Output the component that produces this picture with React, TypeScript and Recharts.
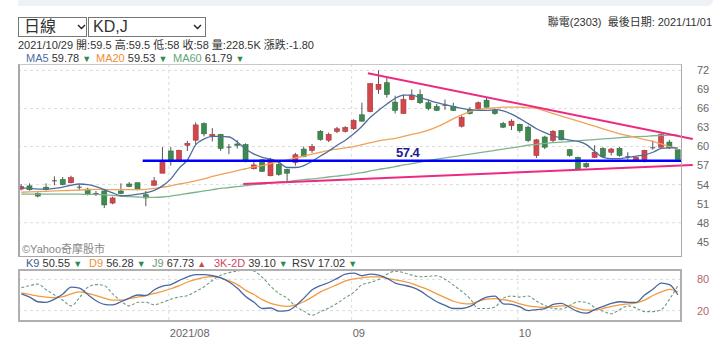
import React from "react";
import {
  Bar,
  CartesianGrid,
  ComposedChart,
  Line,
  LineChart,
  ReferenceLine,
  XAxis,
  YAxis,
} from "recharts";

const FONT = '"Liberation Sans", Arial, "Noto Sans CJK TC", sans-serif';

// daily candles, 2021/07 .. 2021/10/29
const openPrices = [
  53.3, 53.8, 52.6, 53.6, 54.6, 54.8, 54.3, 53.6, 53.3, 52.6, 53.0, 51.1, 53.0, 54.1, 54.3, 52.4, 53.9, 55.8,
  59.3, 57.8, 60.2, 61.0, 63.6, 61.6, 61.9, 59.9, 60.4, 60.3, 56.5, 57.9, 55.4, 57.2, 56.4, 57.5, 59.6, 59.4, 62.4, 61.0, 62.4, 62.4,
  62.8, 65.0, 65.5, 69.0, 70.05, 67.0, 65.2, 67.4, 68.2, 66.9, 66.3, 66.5, 66.3, 63.2, 65.8, 66.0, 67.3, 65.7, 63.6, 63.3,
  63.5, 63.05, 58.6, 61.5, 60.95, 62.5, 59.5, 58.3, 57.3, 58.3, 59.7, 59.1, 59.7, 58.4, 57.9, 57.95, 59.8, 59.9, 60.7, 59.5,
];
const highPrices = [
  54.1, 54.2, 52.8, 54.2, 55.3, 55.2, 55.4, 54.0, 53.5, 53.0, 53.3, 52.1, 54.2, 54.4, 54.3, 53.0, 55.2, 59.9,
  59.9, 59.5, 60.9, 63.8, 63.8, 62.9, 62.0, 60.4, 61.0, 60.5, 57.9, 58.0, 58.2, 57.5, 56.5, 59.0, 60.0, 60.4, 62.6, 62.2, 63.1, 63.2,
  64.3, 66.9, 70.0, 72.0, 70.8, 68.0, 68.2, 69.0, 69.0, 67.4, 66.7, 67.4, 66.9, 64.9, 66.2, 67.1, 67.7, 66.0, 63.9, 64.3,
  63.6, 63.3, 61.2, 61.7, 62.6, 62.6, 59.6, 58.4, 57.5, 60.2, 59.9, 59.8, 59.9, 59.1, 58.4, 59.5, 60.95, 62.1, 61.05, 59.5,
];
const lowPrices = [
  53.1, 53.05, 52.0, 53.05, 53.9, 53.9, 54.2, 53.1, 52.3, 52.2, 50.3, 50.9, 52.5, 53.6, 53.1, 50.6, 53.8, 55.8,
  57.0, 57.6, 59.3, 60.4, 61.6, 60.8, 59.3, 58.8, 59.7, 57.5, 56.4, 56.0, 55.3, 55.4, 54.5, 57.0, 58.3, 59.0, 60.9, 60.7, 62.1, 62.2,
  62.6, 63.9, 65.4, 68.3, 67.7, 65.2, 65.2, 67.3, 66.7, 65.7, 65.6, 65.8, 65.6, 63.0, 65.05, 65.8, 66.1, 65.0, 62.9, 62.6,
  62.2, 60.7, 58.2, 59.6, 60.7, 61.0, 58.4, 56.3, 56.6, 58.2, 58.3, 58.6, 58.4, 57.9, 57.7, 57.5, 59.5, 59.8, 59.6, 58.0,
];
const closePrices = [
  53.7, 53.2, 52.2, 53.2, 54.5, 54.0, 55.1, 53.5, 52.5, 52.5, 50.8, 51.9, 52.6, 53.7, 53.2, 51.9, 54.6, 57.6,
  57.7, 59.4, 60.5, 63.4, 62.0, 61.9, 59.7, 59.8, 60.2, 57.9, 57.1, 56.1, 58.0, 55.6, 55.8, 58.7, 58.4, 60.0, 61.1, 61.9, 62.8, 63.0,
  64.1, 64.0, 69.9, 69.8, 68.2, 65.7, 67.4, 68.1, 66.9, 66.0, 65.7, 66.4, 65.7, 64.6, 65.2, 66.9, 66.2, 65.2, 63.05, 64.0,
  62.5, 60.95, 61.05, 59.9, 62.4, 61.05, 58.6, 56.5, 56.8, 59.1, 58.4, 59.6, 58.6, 58.3, 58.3, 59.4, 59.7, 61.9, 59.8, 58.0,
];

const ma5 = [
  53.5, 53.4, 53.3, 53.3, 53.4, 53.6, 53.9, 54.1, 54.0, 53.7, 53.2, 52.7, 52.25, 52.3, 52.5, 52.7, 53.1, 53.8,
  54.9, 56.6, 57.9, 60.3, 61.2, 61.6, 61.6, 61.5, 60.7, 59.6, 58.8, 58.3, 58.0, 57.5, 56.7, 56.7, 57.0, 57.7, 58.5, 59.3, 60.2, 61.0,
  62.0, 63.2, 64.6, 65.7, 66.7, 67.6, 68.1, 68.1, 67.7, 67.3, 66.9, 66.6, 66.3, 66.0, 65.8, 65.7, 65.7, 65.8, 65.6, 65.1,
  64.4, 63.6, 62.8, 62.2, 61.7, 61.3, 61.0, 60.8, 60.3, 59.2, 58.3, 58.1, 58.1, 58.3, 58.5, 58.7, 59.1, 59.7, 59.8, 59.78,
];
const ma20 = [
  52.8, 52.85, 52.9, 52.95, 53.0, 53.05, 53.1, 53.15, 53.2, 53.25, 53.25, 53.2, 53.2, 53.2, 53.2, 53.25, 53.4, 53.6,
  53.8, 54.1, 54.3, 54.6, 54.9, 55.3, 55.6, 55.9, 56.2, 56.5, 56.8, 57.0, 57.3, 57.6, 57.9, 58.2, 58.5, 58.8, 59.1, 59.4, 59.6, 59.8,
  60.0, 60.3, 60.6, 60.9, 61.1, 61.3, 61.6, 61.9, 62.2, 62.6, 63.1, 63.7, 64.4, 65.0, 65.5, 65.8, 66.0, 66.1, 66.2, 66.2,
  66.2, 66.1, 66.0, 65.6, 65.2, 64.8, 64.4, 64.0, 63.6, 63.2, 62.8, 62.4, 62.0, 61.7, 61.4, 61.1, 60.8, 60.4, 60.0, 59.6,
];
const ma60 = [
  52.5, 52.5, 52.5, 52.5, 52.5, 52.5, 52.5, 52.5, 52.45, 52.45, 52.4, 52.3, 52.2, 52.1, 52.05, 52.0, 52.0, 52.05,
  52.2, 52.4, 52.6, 52.8, 53.0, 53.2, 53.4, 53.55, 53.7, 53.85, 54.0, 54.1, 54.25, 54.4, 54.5, 54.65, 54.8, 54.9, 55.05, 55.2, 55.35, 55.5,
  55.7, 55.9, 56.15, 56.4, 56.6, 56.85, 57.1, 57.3, 57.55, 57.8, 58.0, 58.2, 58.4, 58.6, 58.8, 59.0, 59.2, 59.4, 59.6, 59.8,
  60.0, 60.2, 60.35, 60.5, 60.6, 60.7, 60.8, 60.9, 61.0, 61.1, 61.2, 61.3, 61.4, 61.5, 61.55, 61.6, 61.7, 61.75, 61.8, 61.8,
];

// KD panel
const k9 = [
  52, 46, 37, 36, 42, 52, 65, 63, 51, 39, 32, 31, 37, 44, 50, 49, 60, 67,
  70, 78, 85, 89, 89, 87, 83, 75, 63, 47, 36, 24, 25, 19, 20, 29, 44, 60, 68, 74, 82, 90,
  92, 87, 90, 88, 82, 73, 69, 65, 58, 47, 37, 30, 24, 24, 28, 38, 46, 48, 33, 32,
  27, 20, 22, 24, 32, 34, 26, 18, 15, 22, 28, 34, 37, 36, 36, 50, 61, 73, 70, 50.55,
];
const d9 = [
  54, 51, 48, 46, 45, 47, 52, 56, 53, 49, 44, 40, 40, 43, 46, 49, 53, 57,
  62, 68, 75, 80, 84, 85.5, 83, 77, 70, 59, 51, 41, 34, 30, 28, 31, 37, 46, 56, 63, 70, 77,
  81, 83, 85, 85, 82, 79, 76, 72, 66, 60, 52, 45, 38, 34, 33, 38, 42, 43, 41, 38,
  33, 29, 27, 26, 27.5, 29, 29, 24, 21, 21, 24, 28, 31, 33, 35, 40, 49, 56, 61, 56.28,
];
const j9 = [
  64, 68, 71, 60, 50, 40, 29, 45, 65, 70, 68, 52, 38, 29, 36, 36, 31, 36,
  42, 46, 49, 57, 66, 78, 88, 93, 96, 99, 96, 84, 67, 53, 44, 28, 19, 11, 18, 25, 34, 45,
  55, 70, 74, 80, 90, 96, 93, 88, 85, 86, 87, 80, 69, 57, 43, 24, 24, 27, 44, 48,
  46, 48, 38, 30, 24, 23, 30, 37, 36, 26, 19, 14, 22, 29, 25, 18, 18, 22, 42, 67.73,
];

const priceTicks = [45, 48, 51, 54, 57, 60, 63, 66, 69, 72];
const kdTicks = [20, 50, 80];
const monthStartIdx = [19, 41, 61];
const monthLabels = ["2021/08", "09", "10"];

const maLegend = [
  { name: "MA5", value: "59.78", color: "#4b6ea6", up: false },
  { name: "MA20", value: "59.53", color: "#ef8f35", up: false },
  { name: "MA60", value: "61.79", color: "#62a57a", up: false },
];
const kdLegend = [
  { name: "K9", value: "50.55", color: "#3e5e8e", up: false },
  { name: "D9", value: "56.28", color: "#ef8f35", up: false },
  { name: "J9", value: "67.73", color: "#6f9a78", up: true },
  { name: "3K-2D", value: "39.10", color: "#d0485e", up: false },
  { name: "RSV", value: "17.02", color: "#333", up: false },
];

const supportLevel = 57.75;
const supportText = "57.4";
const upperTrend = [
  { x: 42.7, y: 71.55 },
  { x: 81.8, y: 61.2 },
];
const lowerTrend = [
  { x: 27.7, y: 54.1 },
  { x: 81.8, y: 57.1 },
];
const supportStart = 15.6;

const priceData = openPrices.map((o, k) => ({
  i: k + 1,
  open: o,
  high: highPrices[k],
  low: lowPrices[k],
  close: closePrices[k],
  ma5: ma5[k],
  ma20: ma20[k],
  ma60: ma60[k],
}));
const kdData = k9.map((v, k) => ({ i: k + 1, k: v, d: d9[k], j: j9[k] }));
const monthGrid = monthStartIdx.map((m) => m - 0.25);

const xDomain = [0.6, 80.5];

function Candle(props: any) {
  const { x, y, width, height, payload } = props;
  const { open, close, high, low } = payload;
  const h = Math.abs(height);
  const ppu = h / (high - low);
  const cx = x + width / 2;
  const top = y + (high - Math.max(open, close)) * ppu;
  const bh = Math.max(1, Math.abs(open - close) * ppu);
  const flat = Math.abs(open - close) < 0.15;
  const fill = close > open ? "#d2474d" : "#3d8a4f";
  const edge = close > open ? "#a8343a" : "#2f6e3e";
  return (
    <g>
      <line x1={cx} x2={cx} y1={y} y2={y + h} stroke="#555" strokeWidth={1} />
      {flat ? (
        <line x1={cx - 2.5} x2={cx + 2.5} y1={top} y2={top} stroke="#555" strokeWidth={1} />
      ) : (
        <rect x={cx - 2.5} y={top} width={5} height={bh} fill={fill} stroke={edge} strokeWidth={0.6} />
      )}
    </g>
  );
}

function Tri({ up }: { up?: boolean }) {
  return <span style={{ color: up ? "#d2474d" : "#2f8a4f", fontSize: 9 }}>{up ? "▲" : "▼"}</span>;
}

function Chevron({ left }: { left: number }) {
  return (
    <svg style={{ position: "absolute", left, top: 24 }} width={9} height={6}>
      <polyline points="1,1 4.5,4.5 8,1" fill="none" stroke="#222" strokeWidth={1.4} />
    </svg>
  );
}

function MonthTick(props: any) {
  const { x, y, payload } = props;
  const n = monthGrid.indexOf(payload.value);
  return (
    <text x={x + 1} y={y + 16} fontSize={11} fill="#666" fontFamily={FONT}>
      {monthLabels[n]}
    </text>
  );
}

function LegendRow({
  items,
  lefts,
  top,
  fontSize,
}: {
  items: { name: string; value: string; color: string; up: boolean }[];
  lefts: number[];
  top: number;
  fontSize: number;
}) {
  return (
    <>
      {items.map((it, n) => (
        <div
          key={it.name}
          style={{
            position: "absolute",
            left: lefts[n],
            top,
            fontSize,
            lineHeight: `${fontSize + 1}px`,
            whiteSpace: "pre",
          }}
        >
          <span style={{ color: it.color }}>{it.name}</span> {it.value} <Tri up={it.up} />
        </div>
      ))}
    </>
  );
}

const line12 = { fontSize: 11, lineHeight: "12px", height: 12, whiteSpace: "pre" as const };

export default function App() {
  return (
    <div
      style={{
        position: "absolute",
        left: 0,
        top: 0,
        width: 720,
        height: 352,
        background: "#fff",
        fontFamily: FONT,
        overflow: "hidden",
        color: "#333",
      }}
    >
      <div
        style={{
          position: "absolute",
          left: 18,
          top: 0,
          width: 695,
          height: 6,
          background: "#eef1f5",
          borderBottomRightRadius: 6,
        }}
      />
      <div
        style={{
          position: "absolute",
          left: 18,
          top: 17,
          width: 69,
          height: 20,
          border: "1px solid #777",
          fontSize: 16,
          lineHeight: "18px",
          paddingLeft: 5,
          boxSizing: "border-box",
        }}
      >
        日線
      </div>
      <Chevron left={77} />
      <div
        style={{
          position: "absolute",
          left: 88,
          top: 17,
          width: 118,
          height: 20,
          border: "1px solid #777",
          fontSize: 16,
          lineHeight: "18px",
          paddingLeft: 4,
          boxSizing: "border-box",
        }}
      >
        KD,J
      </div>
      <Chevron left={193} />
      <div style={{ position: "absolute", right: 8, top: 16, ...line12 }}>聯電(2303)  最後日期: 2021/11/01</div>
      <div style={{ position: "absolute", left: 18, top: 39, ...line12 }}>
        2021/10/29 開:59.5 高:59.5 低:58 收:58 量:228.5K 漲跌:-1.80
      </div>
      <LegendRow items={maLegend} lefts={[26, 96, 173]} top={52} fontSize={11} />

      <div style={{ position: "absolute", left: 0, top: 0 }}>
        <ComposedChart width={720} height={270} data={priceData} margin={{ top: 64, right: 0, bottom: 13, left: 18 }}>
          <CartesianGrid
            stroke="#dcdcdc"
            strokeDasharray="3 3"
            verticalValues={monthGrid}
            horizontalValues={priceTicks}
          />
          <XAxis type="number" dataKey="i" domain={xDomain} ticks={monthGrid} hide allowDataOverflow />
          <YAxis
            orientation="right"
            domain={[42.6, 73]}
            ticks={priceTicks}
            width={38}
            axisLine={false}
            tickLine={false}
            tickMargin={9}
            tick={{ fontSize: 11, fill: "#666", fontFamily: FONT }}
            allowDataOverflow
          />
          <Line type="monotone" dataKey="ma60" stroke="#7fb38f" strokeWidth={1.3} dot={false} isAnimationActive={false} />
          <Line type="monotone" dataKey="ma20" stroke="#f0a25a" strokeWidth={1.3} dot={false} isAnimationActive={false} />
          <Bar
            dataKey={(d: any) => [d.low, d.high]}
            barSize={6}
            shape={<Candle />}
            isAnimationActive={false}
          />
          <Line type="monotone" dataKey="ma5" stroke="#4f6c9c" strokeWidth={1.3} dot={false} isAnimationActive={false} />
          <ReferenceLine
            segment={[
              { x: supportStart, y: supportLevel },
              { x: xDomain[1], y: supportLevel },
            ]}
            stroke="#0000ff"
            strokeWidth={2.5}
            ifOverflow="visible"
          />
          <ReferenceLine segment={upperTrend} stroke="#ee2a80" strokeWidth={2} ifOverflow="visible" />
          <ReferenceLine segment={lowerTrend} stroke="#ee2a80" strokeWidth={2} ifOverflow="visible" />
        </ComposedChart>
      </div>
      <div
        style={{
          position: "absolute",
          left: 18,
          top: 64,
          width: 664,
          height: 193,
          borderTop: "1px solid #c8c8c8",
          borderRight: "1px solid #a8a8a8",
          borderBottom: "1px solid #a8a8a8",
          borderLeft: "2px solid #a8a8a8",
          boxSizing: "border-box",
          pointerEvents: "none",
        }}
      />
      <div
        style={{
          position: "absolute",
          left: 396,
          top: 146,
          fontSize: 13,
          lineHeight: "14px",
          fontWeight: "bold",
          color: "#1b1b8f",
          letterSpacing: -0.5,
        }}
      >
        {supportText}
      </div>
      <div style={{ position: "absolute", left: 22, top: 243, ...line12, color: "#888" }}>©Yahoo奇摩股市</div>

      <LegendRow items={kdLegend} lefts={[26, 89, 152, 214, 292]} top={257} fontSize={11} />

      <div style={{ position: "absolute", left: 0, top: 262 }}>
        <LineChart width={720} height={90} data={kdData} margin={{ top: 7, right: 0, bottom: 11, left: 18 }}>
          <CartesianGrid
            stroke="#dcdcdc"
            strokeDasharray="3 3"
            verticalValues={monthGrid}
            horizontalValues={kdTicks}
          />
          <XAxis
            type="number"
            dataKey="i"
            domain={xDomain}
            ticks={monthGrid}
            height={20}
            axisLine={false}
            tickLine={false}
            tickSize={0}
            tickMargin={0}
            tick={<MonthTick />}
            allowDataOverflow
          />
          <YAxis
            orientation="right"
            domain={[0, 100]}
            ticks={kdTicks}
            width={38}
            axisLine={false}
            tickLine={false}
            tickMargin={9}
            tick={{ fontSize: 11, fill: "#b8646e", fontFamily: FONT }}
          />
          <Line type="monotone" dataKey="j" stroke="#6f9a80" strokeWidth={1.1} strokeDasharray="3 2" dot={false} isAnimationActive={false} />
          <Line type="monotone" dataKey="d" stroke="#f39a3e" strokeWidth={1.3} dot={false} isAnimationActive={false} />
          <Line type="monotone" dataKey="k" stroke="#4a68a0" strokeWidth={1.3} dot={false} isAnimationActive={false} />
        </LineChart>
      </div>
      <div
        style={{
          position: "absolute",
          left: 18,
          top: 269,
          width: 664,
          height: 53,
          border: "2px solid #b0b0b0",
          boxSizing: "border-box",
          pointerEvents: "none",
        }}
      />
    </div>
  );
}
